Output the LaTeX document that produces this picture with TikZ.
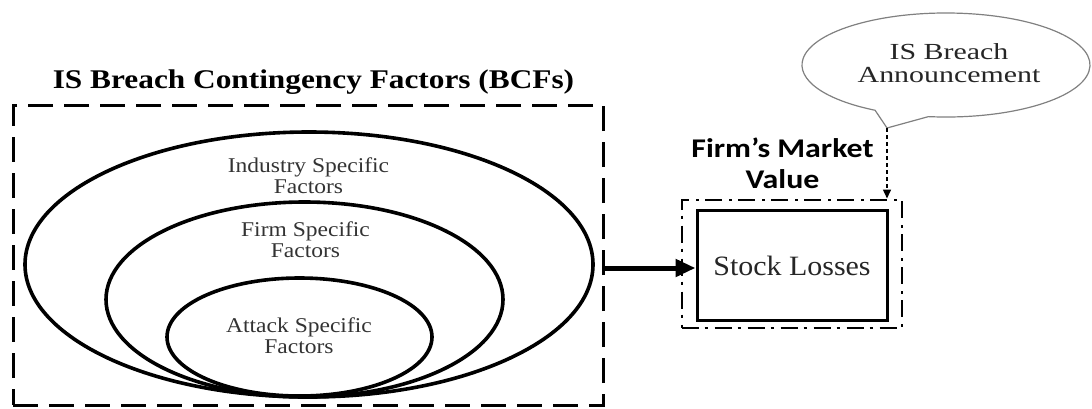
\documentclass[tikz,border=0pt]{standalone}
\usepackage{fontspec}
\setmainfont{Liberation Serif}
\newfontfamily\titlefam[FakeStretch=1.16]{Liberation Serif}
\newfontfamily\lblfam[FakeStretch=1.12]{Liberation Serif}
\newfontfamily\stockfam[FakeStretch=1.07]{Liberation Serif}
\newfontfamily\annfam[FakeStretch=1.3]{Liberation Serif}
\newfontfamily\calib[FakeStretch=1.18]{Carlito}
\usetikzlibrary{shapes.geometric,arrows.meta,calc}
\begin{document}
\begin{tikzpicture}[x=1pt,y=1pt,
  bcfbox/.style={draw,line width=3pt,dash pattern=on 25pt off 11pt,minimum width=590pt,minimum height=300pt,inner sep=0pt},
  ring/.style={draw,ellipse,line width=3.6pt,inner sep=0pt},
  lbl/.style={align=center,text=black!80,font=\lblfam\fontsize{21}{21}\selectfont},
  mvbox/.style={draw,line width=2pt,dash pattern=on 17pt off 6pt on 3pt off 7pt,minimum width=220pt,minimum height=128pt,inner sep=0pt},
  stockbox/.style={draw,line width=3pt,minimum width=190pt,minimum height=110pt,inner sep=0pt,text=black!85,font=\stockfam\fontsize{28}{30}\selectfont},
  bigarrow/.style={line width=5pt,-{Triangle[length=20pt,width=17pt]}},
  callarrow/.style={line width=1.5pt,dash pattern=on 4pt off 3pt,-{Triangle[length=9pt,width=8pt]}}
]
\useasboundingbox (0,0) rectangle (1092,-408);
% left group
\node[bcfbox] (bcf) at (308,-255) {};
\node[anchor=base,font=\titlefam\bfseries\fontsize{27}{30}\selectfont] (title) at (313.5,-88) {IS Breach Contingency Factors (BCFs)};
\node[ring,minimum width=568pt,minimum height=265pt] (outer) at (309,-264.5) {};
\node[ring,minimum width=397pt,minimum height=195pt] (mid) at (304.5,-299.5) {};
\node[ring,minimum width=265pt,minimum height=118pt] (inner) at (299.5,-337) {};
\node[lbl] (ind) at (308.5,-175.3) {Industry Specific\\Factors};
\node[lbl] (firm) at (305.5,-239.3) {Firm Specific\\Factors};
\node[lbl] (att) at (299,-335.3) {Attack Specific\\Factors};
% right group
\node[mvbox] (mv) at (791.5,-263.5) {};
\node[stockbox] (stock) at (792,-265.5) {Stock Losses};
\node[align=center,font=\calib\bfseries\fontsize{27}{31}\selectfont] (mvl) at (782.5,-163) {Firm’s Market\\Value};
% callout
\coordinate (tip) at (887,-128);
\draw[gray,line width=1.2pt] (tip) -- ($(946,-65)+(263:144 and 52)$) arc[start angle=263,end angle=600.5,x radius=144pt,y radius=52pt] -- cycle;
\node[align=center,text=black!85,font=\annfam\fontsize{23}{23}\selectfont] (ann) at (949,-62.7) {IS Breach\\Announcement};
% connectors
\draw[bigarrow] (bcf.east |- 0,-268) -- (stock.west |- 0,-268);
\draw[callarrow] (tip) -- (tip |- mv.north);
\end{tikzpicture}
\end{document}
